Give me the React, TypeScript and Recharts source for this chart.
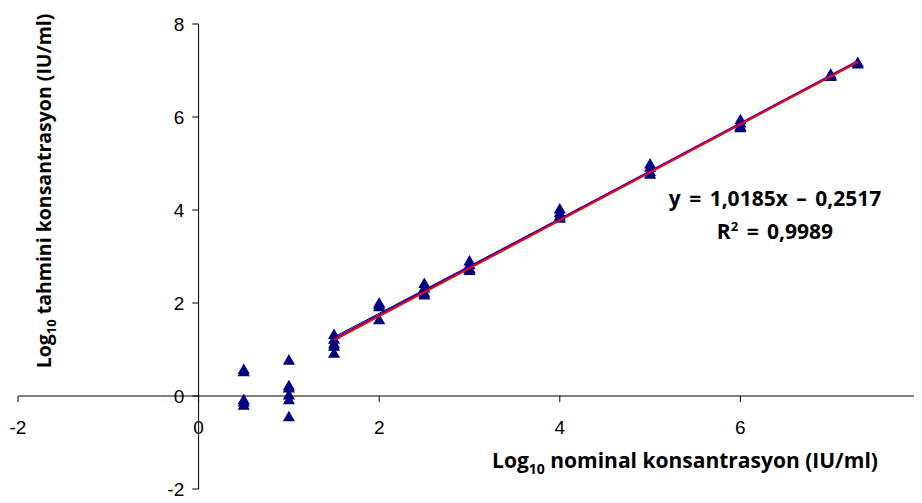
import React from 'react';
import {
  ComposedChart,
  Scatter,
  XAxis,
  YAxis,
  ZAxis,
  ReferenceLine
} from 'recharts';

// replicate measurements (log10 nominal x, log10 estimated y)
const points = [
  { x: 0.5, y: 0.55 }, { x: 0.5, y: 0.5 }, { x: 0.5, y: -0.1 }, { x: 0.5, y: -0.15 }, { x: 0.5, y: -0.22 },
  { x: 1, y: 0.75 }, { x: 1, y: 0.2 }, { x: 1, y: 0.15 }, { x: 1, y: 0.0 }, { x: 1, y: -0.1 }, { x: 1, y: -0.47 },
  { x: 1.5, y: 1.3 }, { x: 1.5, y: 1.2 }, { x: 1.5, y: 1.1 }, { x: 1.5, y: 1.05 }, { x: 1.5, y: 0.9 },
  { x: 2, y: 1.98 }, { x: 2, y: 1.94 }, { x: 2, y: 1.9 }, { x: 2, y: 1.62 },
  { x: 2.5, y: 2.4 }, { x: 2.5, y: 2.3 }, { x: 2.5, y: 2.2 }, { x: 2.5, y: 2.15 },
  { x: 3, y: 2.88 }, { x: 3, y: 2.8 }, { x: 3, y: 2.72 }, { x: 3, y: 2.68 },
  { x: 4, y: 4.0 }, { x: 4, y: 3.92 }, { x: 4, y: 3.85 }, { x: 4, y: 3.8 },
  { x: 5, y: 4.97 }, { x: 5, y: 4.9 }, { x: 5, y: 4.8 }, { x: 5, y: 4.75 },
  { x: 6, y: 5.92 }, { x: 6, y: 5.85 }, { x: 6, y: 5.78 }, { x: 6, y: 5.75 },
  { x: 7, y: 6.9 }, { x: 7, y: 6.87 }, { x: 7, y: 6.85 },
  { x: 7.3, y: 7.15 }, { x: 7.3, y: 7.12 }
];

const blackLine = [{ x: 1.5, y: 1.27 }, { x: 7.3, y: 7.17 }];
const blueLine = [{ x: 1.5, y: 1.23 }, { x: 7.3, y: 7.2 }];
const redLine = [{ x: 1.5, y: 1.2 }, { x: 7.3, y: 7.18 }];

const xTicks = [-2, 0, 2, 4, 6, 8];
const yTicks = [-2, 0, 2, 4, 6, 8];

const equation = 'y = 1,0185x – 0,2517';
const rSquared = '0,9989';

const tickFont = { fontFamily: 'Liberation Sans', fontSize: 19, fill: '#000' };
const titleFont = "'Open Sans', sans-serif";

const noShape = () => <g />;

export default function App() {
  return (
    <div style={{ position: 'relative', width: 914, height: 495, background: '#fff' }}>
      <ComposedChart
        width={914}
        height={495}
        margin={{ top: 16, right: 1, left: 10, bottom: 14 }}
      >
        <XAxis type="number" dataKey="x" domain={[-2, 8]} ticks={xTicks} hide />
        <YAxis type="number" dataKey="y" domain={[-2, 8]} ticks={yTicks} hide />
        <ZAxis range={[48, 48]} />

        <ReferenceLine y={0} stroke="#000" strokeWidth={1} />
        <ReferenceLine x={0} stroke="#000" strokeWidth={1} />
        {xTicks.map((v) => (
          <ReferenceLine
            key={`xt${v}`}
            segment={[{ x: v, y: 0 }, { x: v, y: -0.13 }]}
            stroke="#000"
            label={{ value: String(v), position: 'bottom', offset: 18, ...tickFont }}
          />
        ))}
        {yTicks.map((v) => (
          <ReferenceLine
            key={`yt${v}`}
            segment={[{ x: -0.07, y: v }, { x: 0, y: v }]}
            stroke="#000"
            label={{ value: String(v), position: 'left', offset: 8, ...tickFont }}
          />
        ))}

        <Scatter data={points} fill="#000080" shape="triangle" isAnimationActive={false} />
        <Scatter data={blackLine} line={{ stroke: '#000', strokeWidth: 1 }} shape={noShape} isAnimationActive={false} />
        <Scatter data={blueLine} line={{ stroke: '#0000ff', strokeWidth: 2 }} shape={noShape} isAnimationActive={false} />
        <Scatter data={redLine} line={{ stroke: '#ff0000', strokeWidth: 2 }} shape={noShape} isAnimationActive={false} />
      </ComposedChart>

      <div
        style={{
          position: 'absolute',
          left: 37,
          top: 183,
          transform: 'translate(-50%, -50%) rotate(-90deg)',
          whiteSpace: 'nowrap',
          fontFamily: titleFont,
          fontWeight: 700,
          fontSize: 19.5
        }}
      >
        Log<sub style={{ fontSize: 13 }}>10</sub> tahmini konsantrasyon (IU/ml)
      </div>
      <div
        style={{
          position: 'absolute',
          left: 677,
          top: 454,
          transform: 'translate(-50%, -50%)',
          whiteSpace: 'nowrap',
          fontFamily: titleFont,
          fontWeight: 700,
          fontSize: 21
        }}
      >
        Log<sub style={{ fontSize: 14 }}>10</sub> nominal konsantrasyon (IU/ml)
      </div>
      <div
        style={{
          position: 'absolute',
          left: 767,
          top: 206,
          transform: 'translate(-50%, -50%)',
          textAlign: 'center',
          whiteSpace: 'nowrap',
          fontFamily: titleFont,
          fontWeight: 700,
          fontSize: 21,
          wordSpacing: 3,
          lineHeight: '28px'
        }}
      >
        <div>{equation}</div>
        <div>
          R<sup style={{ fontSize: 13 }}>2</sup> = {rSquared}
        </div>
      </div>
    </div>
  );
}
